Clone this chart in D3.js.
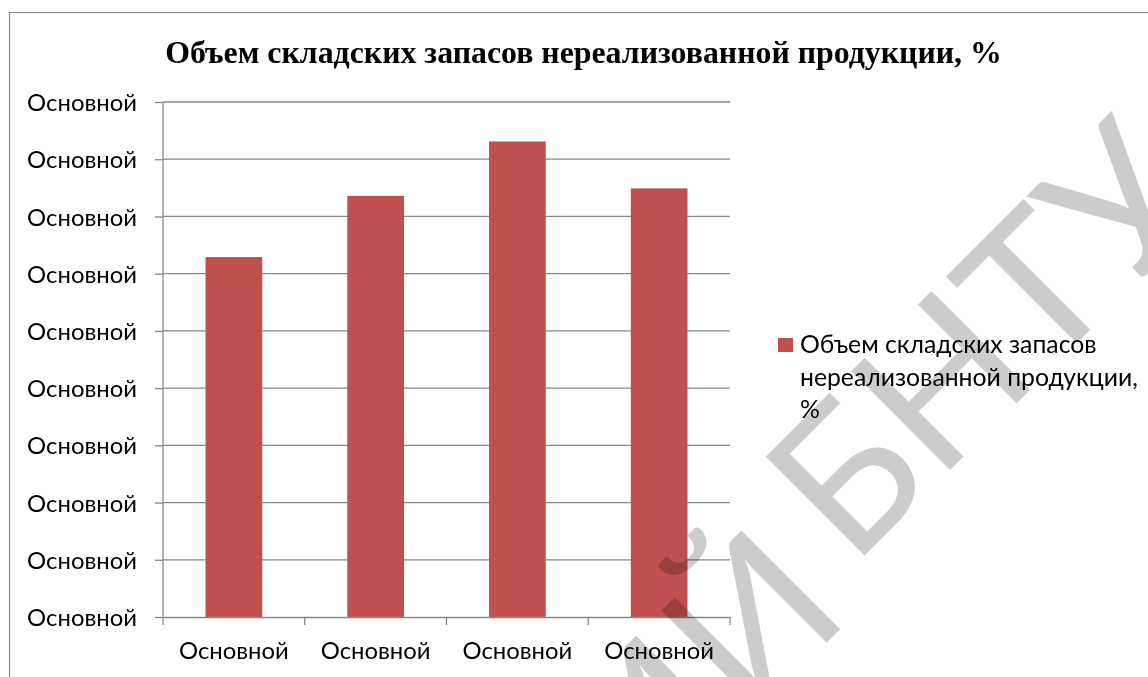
<!DOCTYPE html>
<html>
<head>
<meta charset="utf-8">
<script src="https://cdn.jsdelivr.net/npm/d3@7"></script>
<style>
  body { margin: 0; background: #fff; }
  svg { display: block; }
</style>
</head>
<body>
<div id="chart"></div>
<script>
// data
const chartTitle = "Объем складских запасов нереализованной продукции, %";
const categories = ["Основной", "Основной", "Основной", "Основной"];
const values = [6.29, 7.36, 8.31, 7.49];
const yTickLabels = ["Основной", "Основной", "Основной", "Основной", "Основной",
                     "Основной", "Основной", "Основной", "Основной", "Основной"];
const legendLines = ["Объем складских запасов", "нереализованной продукции,", "%"];
const watermarkHead = "РЕПОЗИТОРИЙ";
const watermarkTail = "БНТУ";

const WIDTH = 1148, HEIGHT = 677;
const margin = { top: 102, right: 418, bottom: 60, left: 163 };
const innerW = WIDTH - margin.left - margin.right;
const innerH = HEIGHT - margin.top - margin.bottom;
const SANS = "Lato, 'Open Sans', sans-serif";
const SERIF = "'Liberation Serif', 'Times New Roman', serif";
const GRID = "#878787";
const BAR = "#C0504D";

// shrink / grow a text element until it reaches the measured width
function fitWidth(sel, target) {
  const w = sel.node().getComputedTextLength();
  const fs = parseFloat(sel.attr("font-size"));
  const size = fs * target / w;
  sel.attr("font-size", size);
  return size;
}

const svg = d3.select("#chart")
  .append("svg")
  .attr("width", WIDTH)
  .attr("height", HEIGHT);

// outer chart border (only top and left edges fall inside the picture)
svg.append("rect")
  .attr("x", 9.5).attr("y", 12.5)
  .attr("width", WIDTH + 20).attr("height", HEIGHT + 20)
  .attr("fill", "#fff")
  .attr("stroke", "#8a8a8a")
  .attr("stroke-width", 1.2);

const title = svg.append("text")
  .attr("x", 583.5).attr("y", 63)
  .attr("text-anchor", "middle")
  .attr("font-family", SERIF)
  .attr("font-weight", "bold")
  .attr("font-size", 30)
  .attr("fill", "#000")
  .text(chartTitle);
fitWidth(title, 837);

const g = svg.append("g")
  .attr("transform", `translate(${margin.left},${margin.top})`);

const x = d3.scaleBand()
  .domain(d3.range(categories.length))
  .range([0, innerW])
  .paddingInner(0.6)
  .paddingOuter(0.3);

const y = d3.scaleLinear()
  .domain([0, yTickLabels.length - 1])
  .range([innerH, 0]);

// horizontal gridlines
g.append("g")
  .selectAll("line")
  .data(d3.range(1, yTickLabels.length))
  .enter()
  .append("line")
  .attr("x1", 0).attr("x2", innerW)
  .attr("y1", d => y(d)).attr("y2", d => y(d))
  .attr("stroke", GRID)
  .attr("stroke-width", 1.3);

// bars
g.selectAll(".bar")
  .data(values)
  .enter()
  .append("rect")
  .attr("class", "bar")
  .attr("x", (d, i) => x(i))
  .attr("y", d => y(d))
  .attr("width", x.bandwidth())
  .attr("height", d => y(0) - y(d))
  .attr("fill", BAR);

// y axis
const yAxis = g.append("g")
  .call(d3.axisLeft(y)
    .tickValues(d3.range(yTickLabels.length))
    .tickSize(8)
    .tickPadding(18)
    .tickFormat(d => yTickLabels[d]));
yAxis.select(".domain").remove();
yAxis.selectAll(".tick line").attr("stroke", GRID).attr("stroke-width", 1.3);
yAxis.selectAll(".tick text")
  .attr("font-family", SANS)
  .attr("font-size", 22)
  .attr("fill", "#000")
  .attr("dy", "0.36em");
g.append("line")
  .attr("x1", 0).attr("x2", 0)
  .attr("y1", 0).attr("y2", innerH)
  .attr("stroke", GRID).attr("stroke-width", 1.3);

// x axis (labels), boundary ticks drawn from the band scale
const xAxis = g.append("g")
  .attr("transform", `translate(0,${innerH})`)
  .call(d3.axisBottom(x).tickSize(0).tickPadding(25).tickFormat(i => categories[i]));
xAxis.select(".domain").attr("stroke", GRID).attr("stroke-width", 1.3);
xAxis.selectAll(".tick text")
  .attr("font-family", SANS)
  .attr("font-size", 22)
  .attr("fill", "#000");

const gap = (x.step() - x.bandwidth()) / 2;
const bounds = d3.range(categories.length).map(i => x(i) - gap).concat([innerW]);
xAxis.selectAll(".bound")
  .data(bounds)
  .enter()
  .append("line")
  .attr("class", "bound")
  .attr("x1", d => d).attr("x2", d => d)
  .attr("y1", 0).attr("y2", 8)
  .attr("stroke", GRID).attr("stroke-width", 1.3);

// fit label size to measured width of "Основной" (~110px)
const labelSize = fitWidth(yAxis.select(".tick text"), 110);
yAxis.selectAll(".tick text").attr("font-size", labelSize);
xAxis.selectAll(".tick text").attr("font-size", labelSize);

// legend
const legend = svg.append("g").attr("transform", "translate(778,338)");
legend.append("rect")
  .attr("width", 15).attr("height", 14)
  .attr("fill", BAR);
const legendText = legend.selectAll("text")
  .data(legendLines)
  .enter()
  .append("text")
  .attr("x", 22)
  .attr("y", (d, i) => 15 + i * 32.5)
  .attr("font-family", SANS)
  .attr("font-size", 22)
  .attr("fill", "#000")
  .text(d => d);
const legendSize = fitWidth(d3.select(legendText.nodes()[1]), 338);
legendText.attr("font-size", legendSize);

// repository watermark over the scan
const wm = svg.append("g")
  .attr("transform", "translate(852,568) rotate(-45)")
  .style("mix-blend-mode", "multiply");
wm.append("text")
  .attr("x", -34)
  .attr("y", 35)
  .attr("text-anchor", "end")
  .attr("font-family", SANS)
  .attr("font-size", 195)
  .attr("fill", "#cccccc")
  .text(watermarkHead);
wm.append("text")
  .attr("x", 0)
  .attr("font-family", SANS)
  .attr("font-size", 195)
  .attr("fill", "#cccccc")
  .text(watermarkTail);
</script>
</body>
</html>
